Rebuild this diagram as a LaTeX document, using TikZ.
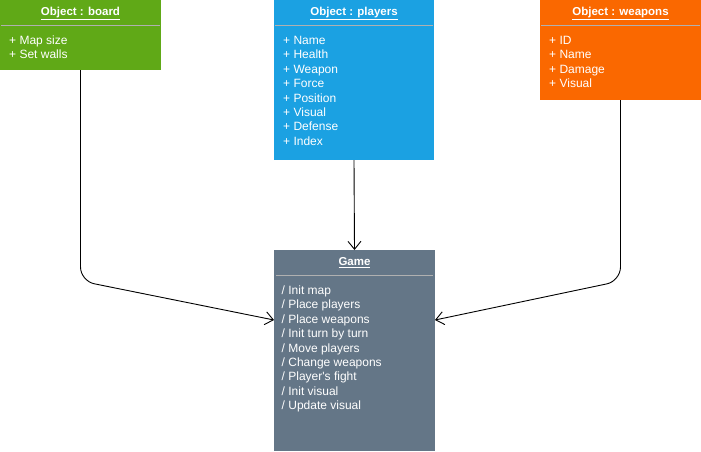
\documentclass[tikz,border=0pt]{standalone}
\usepackage{fontspec}
\setmainfont{Liberation Sans}
\usetikzlibrary{arrows.meta,calc}
\definecolor{cgreen}{HTML}{60A917}
\definecolor{cblue}{HTML}{1BA1E2}
\definecolor{corange}{HTML}{FA6800}
\definecolor{cgray}{HTML}{647687}
\definecolor{csep}{HTML}{B0B0B0}
\begin{document}
\begin{tikzpicture}[x=1pt,y=-1pt,
  box/.style={draw=none, inner sep=0pt, outer sep=0pt, anchor=north west},
  ttl/.style={font=\fontsize{11.5}{14.4}\selectfont\bfseries, text=white, inner sep=0pt, anchor=base},
  item/.style={font=\fontsize{12}{14.4}\selectfont, text=white, inner sep=0pt, anchor=base west},
  sep/.style={draw=csep, line width=1.3pt},
  conn/.style={draw=black, line width=0.9pt, -{Straight Barb[length=8pt,width=13pt,line width=0.9pt]}}]
\useasboundingbox (0,0) rectangle (701,451);
% boxes
\node[box, fill=cgreen, minimum width=161pt, minimum height=70pt] (board) at (0,0) {};
\node[box, fill=cblue, minimum width=160pt, minimum height=160pt] (players) at (274,0) {};
\node[box, fill=corange, minimum width=161pt, minimum height=100pt] (weapons) at (540,0) {};
\node[box, fill=cgray, minimum width=161pt, minimum height=201pt] (game) at (274,250) {};
% titles
\node[ttl] (boardT) at ($(board.north)+(0,15.5)$) {\underline{Object : board}};
\node[ttl] (playersT) at ($(players.north)+(0,15.5)$) {\underline{Object : players}};
\node[ttl] (weaponsT) at ($(weapons.north)+(0,15.5)$) {\underline{Object : weapons}};
\node[ttl] (gameT) at ($(game.north)+(0,15.5)$) {\underline{Game}};
% separators
\draw[sep] ($(board.north west)+(1,25.5)$) -- ($(board.north east)+(-1,25.5)$);
\draw[sep] ($(players.north west)+(1,25.5)$) -- ($(players.north east)+(-1,25.5)$);
\draw[sep] ($(weapons.north west)+(1,25.5)$) -- ($(weapons.north east)+(-1,25.5)$);
\draw[sep] ($(game.north west)+(2,25.5)$) -- ($(game.north east)+(-2,25.5)$);
% items
\foreach \t [count=\i] in {Map size, Set walls}
  \node[item] (b\i) at ($(board.north west)+(9,44.5+14.4*\i-14.4)$) {+ \t};
\foreach \t [count=\i] in {Name, Health, Weapon, Force, Position, Visual, Defense, Index}
  \node[item] (p\i) at ($(players.north west)+(9,44.5+14.4*\i-14.4)$) {+ \t};
\foreach \t [count=\i] in {ID, Name, Damage, Visual}
  \node[item] (w\i) at ($(weapons.north west)+(9,44.5+14.4*\i-14.4)$) {+ \t};
\foreach \t [count=\i] in {Init map, Place players, Place weapons, Init turn by turn, Move players, Change weapons, Player\textquotesingle s fight, Init visual, Update visual}
  \node[item] (g\i) at ($(game.north west)+(7.5,44.5+14.4*\i-14.4)$) {/ \t};
% connectors
\coordinate (gl) at ($(game.north west)+(0,70)$);
\coordinate (gr) at ($(game.north east)+(0,70)$);
\draw[conn, rounded corners=14pt] (board.south) -- ($(board.south)+(0,211)$) -- (gl);
\draw[conn, rounded corners=14pt] (weapons.south) -- ($(weapons.south)+(0,181)$) -- (gr);
\draw[conn] (players.south) -- (game.north);
\end{tikzpicture}
\end{document}
